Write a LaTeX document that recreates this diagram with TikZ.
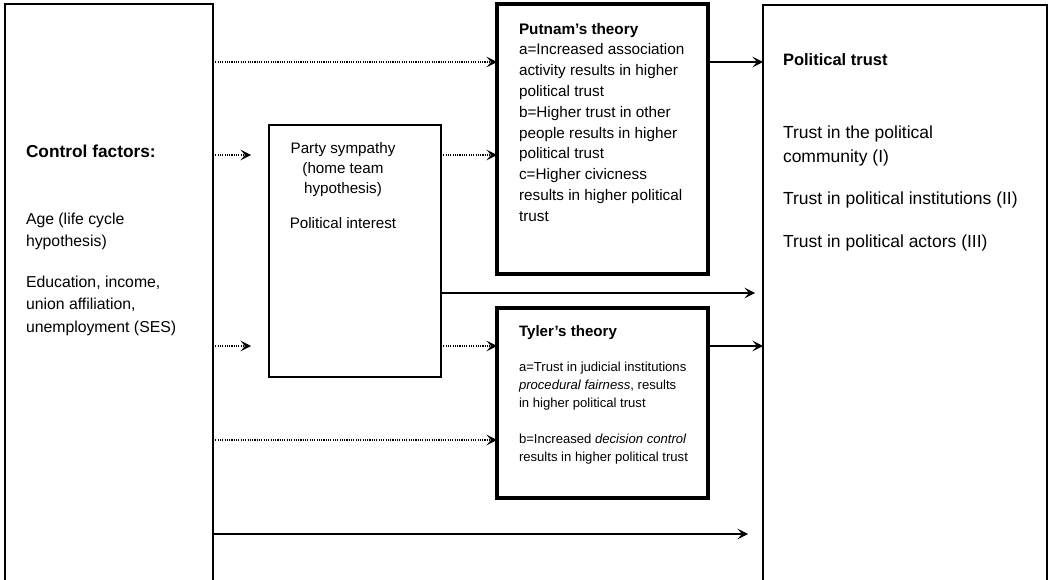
\documentclass[tikz,border=0pt]{standalone}
\usepackage{fontspec}
\setmainfont{Liberation Sans}
\usetikzlibrary{arrows.meta}
\begin{document}
\begin{tikzpicture}[x=1pt,y=-1pt,
  frame/.style={draw=black, line width=1.3pt, inner sep=0pt, outer sep=0pt, anchor=north west},
  thickframe/.style={frame, line width=3.8pt},
  txt/.style={anchor=north west, inner sep=0pt, outer sep=0pt, align=left},
  ctxt/.style={anchor=north, inner sep=0pt, outer sep=0pt, align=center},
  tip/.style={-{Stealth[length=10.5pt,width=10.5pt,inset=4.5pt]}},
  solidarrow/.style={tip, line width=1.2pt},
  dotarrow/.style={tip, line width=1.2pt, dash pattern=on 1.1pt off 1.2pt},
]
\clip (0,0) rectangle (1049,580);
\fill[white] (0,0) rectangle (1049,580);

% boxes
\node[frame, minimum width=208pt, minimum height=620pt] (ctrl) at (5,4) {};
\node[frame, minimum width=172pt, minimum height=252pt] (party) at (269,125) {};
\node[thickframe, minimum width=211pt, minimum height=270pt] (putnam) at (497,4) {};
\node[thickframe, minimum width=211pt, minimum height=190pt] (tyler) at (497,308) {};
\node[frame, minimum width=284pt, minimum height=620pt] (trust) at (763,5) {};

% texts of the control box
\node[txt, font=\fontsize{17.3}{22}\selectfont\bfseries] (ctrlhead) at (26,145) {Control factors:};
\node[txt, font=\fontsize{15.8}{22.5}\selectfont] (ctrlbody) at (26,213)
  {Age (life cycle\\hypothesis)\\[18pt]Education, income,\\union affiliation,\\unemployment (SES)};

% party box
\node[ctxt, font=\fontsize{15.2}{20}\selectfont] (partytxt) at (343,142)
  {Party sympathy\\(home team\\hypothesis)\\[15pt]Political interest};

% Putnam box
\node[txt, font=\fontsize{15.3}{20.8}\selectfont] (putnamtxt) at (519,23)
  {\textbf{Putnam’s theory}\\a=Increased association\\activity results in higher\\political trust\\b=Higher trust in other\\people results in higher\\political trust\\c=Higher civicness\\results in higher political\\trust};

% Tyler box
\node[txt, font=\fontsize{15.1}{18}\selectfont\bfseries] (tylerhead) at (519,326) {Tyler’s theory};
\node[txt, font=\fontsize{13.1}{18}\selectfont] (tylertxt) at (519,362)
  {a=Trust in judicial institutions\\\textit{procedural fairness}, results\\in higher political trust\\[18pt]b=Increased \textit{decision control}\\results in higher political trust};

% political trust box
\node[txt, font=\fontsize{16.5}{22}\selectfont\bfseries] (trusthead) at (783,54) {Political trust};
\node[txt, font=\fontsize{17.5}{23.5}\selectfont] (trusttxt) at (783,126)
  {Trust in the political\\community (I)\\[19pt]Trust in political institutions (II)\\[19pt]Trust in political actors (III)};

% rows of the connectors
\coordinate (yA) at (0,62);
\coordinate (yB) at (0,155);
\coordinate (yC) at (0,293);
\coordinate (yD) at (0,346);
\coordinate (yE) at (0,440);
\coordinate (yF) at (0,534);
\coordinate (endB) at (251,155);
\coordinate (endC) at (755,293);
\coordinate (endD) at (251,346);
\coordinate (endF) at (748,534);

% connectors
\draw[dotarrow] (ctrl.east |- yA) -- (putnam.west |- yA);
\draw[solidarrow] (putnam.east |- yA) -- (trust.west |- yA);
\draw[dotarrow] (ctrl.east |- yB) -- (endB);
\draw[dotarrow] (party.east |- yB) -- (putnam.west |- yB);
\draw[solidarrow] (party.east |- yC) -- (endC);
\draw[dotarrow] (ctrl.east |- yD) -- (endD);
\draw[dotarrow] (party.east |- yD) -- (tyler.west |- yD);
\draw[solidarrow] (tyler.east |- yD) -- (trust.west |- yD);
\draw[dotarrow] (ctrl.east |- yE) -- (tyler.west |- yE);
\draw[solidarrow] (ctrl.east |- yF) -- (endF);
\end{tikzpicture}
\end{document}
